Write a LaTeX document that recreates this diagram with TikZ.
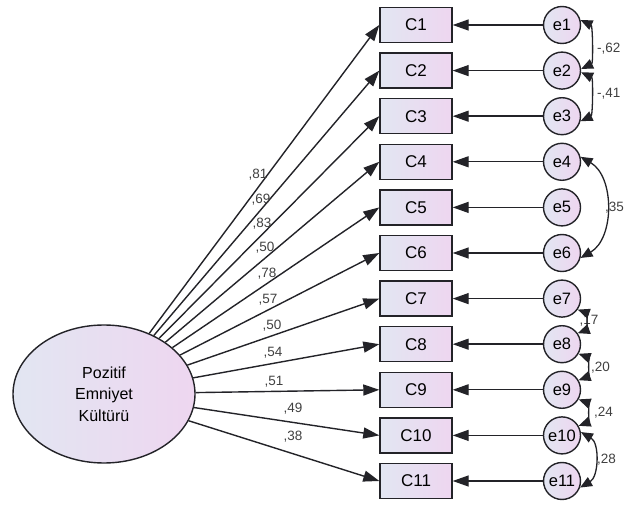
\documentclass[tikz,border=0pt]{standalone}
\usepackage{fontspec}
\setmainfont{Liberation Sans}
\usetikzlibrary{arrows.meta,shapes.geometric}
\definecolor{fillL}{RGB}{226,230,242}
\definecolor{fillR}{RGB}{238,214,240}
\definecolor{edgec}{RGB}{35,35,40}
\begin{document}
\begin{tikzpicture}[x=1pt,y=1pt,
  obs/.style={rectangle,draw=edgec,line width=1.4pt,minimum width=72pt,minimum height=35pt,
    left color=fillL,right color=fillR,font=\fontsize{17}{17}\selectfont,inner sep=0pt},
  err/.style={circle,draw=edgec,line width=1.4pt,minimum size=37pt,inner sep=0pt,
    left color=fillL,right color=fillR,font=\fontsize{16.5}{16.5}\selectfont},
  lnk/.style={-{Triangle[length=16pt,width=11pt]},line width=1.4pt,draw=edgec},
  cov/.style={{Triangle[length=12pt,width=10pt]}-{Triangle[length=12pt,width=10pt]},line width=1.3pt,draw=edgec},
  coef/.style={font=\fontsize{13.5}{13.5}\selectfont,inner sep=0pt,text=black!75}
]
\useasboundingbox (0,0) rectangle (625,-505);
\fill[white] (0,0) rectangle (625,-505);

\node[ellipse,draw=edgec,line width=1.4pt,minimum width=182pt,minimum height=138pt,
  left color=fillL,right color=fillR,align=center,
  font=\fontsize{16}{21.5}\selectfont] (F) at (104,-394) {Pozitif\\Emniyet\\Kültürü};

\foreach \i in {1,...,11}{
  \pgfmathsetmacro\yy{-(25+45.6*(\i-1))}
  \node[obs] (C\i) at (416,\yy) {C\i};
  \node[err] (e\i) at (562,\yy) {e\i};
}
\foreach \i in {1,...,11}{
  \draw[lnk] (e\i) -- (C\i);
  \draw[lnk] (F) -- (C\i.west);
}

\node[coef] (k1) at (258,-175) {,81};
\node[coef] (k2) at (261,-200) {,69};
\node[coef] (k3) at (262,-224) {,83};
\node[coef] (k4) at (265,-248) {,50};
\node[coef] (k5) at (267,-274) {,78};
\node[coef] (k6) at (268,-300) {,57};
\node[coef] (k7) at (272,-326) {,50};
\node[coef] (k8) at (273,-353) {,54};
\node[coef] (k9) at (274,-382) {,51};
\node[coef] (k10) at (293,-409) {,49};
\node[coef] (k11) at (293,-437) {,38};

\node[coef] (r78) at (589,-321) {,17};

\draw[cov] (e1.15) to[out=-25,in=25,looseness=0.7] (e2.5);
\draw[cov] (e2.-5) to[out=-25,in=25,looseness=0.7] (e3.-15);
\draw[cov] (e4.15) to[out=-30,in=30] (e6.-15);
\draw[cov] (e7.-35) to[out=-20,in=20] (e8.35);
\draw[cov] (e8.-30) to[out=-20,in=20] (e9.30);
\draw[cov] (e9.-30) to[out=-20,in=20] (e10.30);
\draw[cov] (e10.10) to[out=-30,in=30] (e11.-20);

\node[coef,anchor=west] (r12) at (597,-49) {-,62};
\node[coef,anchor=west] (r23) at (597,-94) {-,41};
\node[coef,anchor=west] (r46) at (605,-208) {,35};
\node[coef,anchor=west] (r89) at (591,-368) {,20};
\node[coef,anchor=west] (r910) at (594,-413) {,24};
\node[coef,anchor=west] (r1011) at (597,-460) {,28};
\end{tikzpicture}
\end{document}
